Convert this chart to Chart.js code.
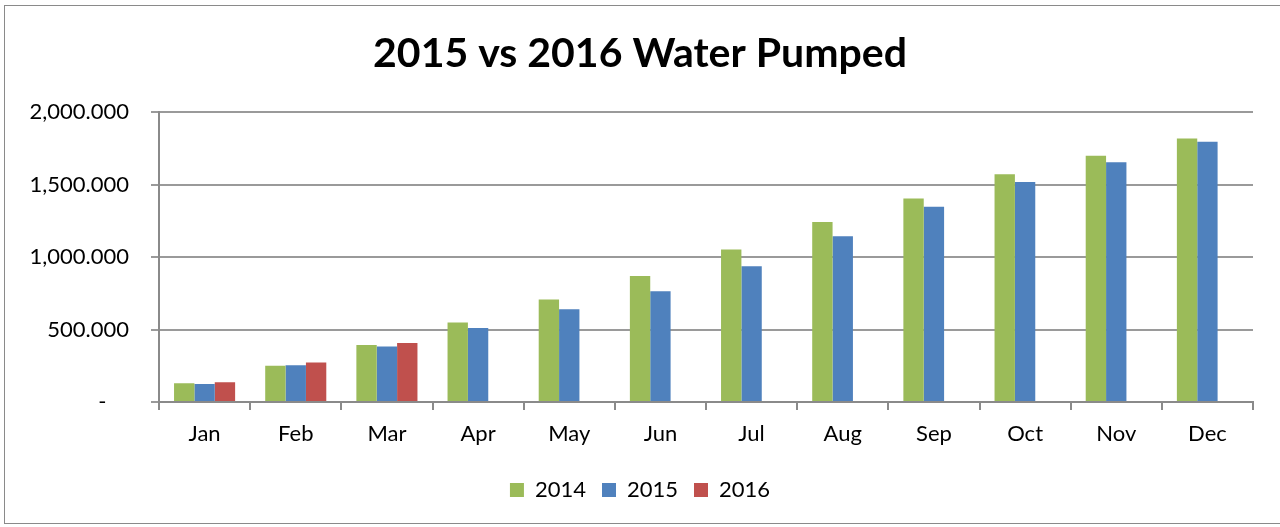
<!DOCTYPE html>
<html>
<head>
<meta charset="utf-8">
<script src="https://cdn.jsdelivr.net/npm/chart.js@4.4.1/dist/chart.umd.min.js"></script>
<style>
  html, body { margin: 0; padding: 0; background: #fff; }
  #wrap { position: relative; width: 1280px; height: 527px; overflow: hidden; }
  #frame { position: absolute; left: 4px; top: 5px; width: 1290px; height: 519px; border: 1.5px solid #8a8a8a; box-sizing: border-box; }
  canvas { position: absolute; left: 0; top: 0; }
</style>
</head>
<body>
<div id="wrap">
  <div id="frame"></div>
  <canvas id="myWaterChart" width="1280" height="527"></canvas>
</div>
<script>
  const months = ["Jan","Feb","Mar","Apr","May","Jun","Jul","Aug","Sep","Oct","Nov","Dec"];
  const pumped2014 = [129, 251, 394, 548, 707, 870, 1052, 1243, 1405, 1572, 1699, 1819];
  const pumped2015 = [124, 253, 383, 511, 640, 764, 937, 1144, 1347, 1519, 1655, 1796];
  const pumped2016 = [136, 272, 408, null, null, null, null, null, null, null, null, null];
  const yTicks = [0, 500, 1000, 1500, 2000];

  const fontFamily = "Lato, 'Open Sans', sans-serif";

  function tickLabel(v) {
    if (v === 0) return '-    ';
    return v.toLocaleString('en-US') + '.000';
  }

  let ctx = document.getElementById("myWaterChart").getContext('2d');
  let myWaterChart = new Chart(ctx, {
    type: 'bar',
    data: {
      labels: months,
      datasets: [
        { label: '2014', data: pumped2014, backgroundColor: '#9BBB59' },
        { label: '2015', data: pumped2015, backgroundColor: '#4F81BD' },
        { label: '2016', data: pumped2016, backgroundColor: '#C0504D' }
      ]
    },
    options: {
      responsive: false,
      animation: false,
      layout: { padding: { left: 0, right: 0, top: 0, bottom: 16 } },
      datasets: { bar: { categoryPercentage: 0.67, barPercentage: 1.0 } },
      plugins: {
        title: {
          display: true,
          text: '2015 vs 2016 Water Pumped',
          color: '#000',
          font: { family: fontFamily, size: 41, weight: 'bold', lineHeight: 1.2 },
          padding: { top: 29, bottom: 34 }
        },
        legend: {
          display: true,
          position: 'bottom',
          labels: {
            color: '#000',
            font: { family: fontFamily, size: 22 },
            boxWidth: 14,
            boxHeight: 14,
            padding: 16
          }
        },
        tooltip: { enabled: false }
      },
      scales: {
        x: {
          grid: { display: true, drawOnChartArea: false, offset: true, tickLength: 8, color: '#8a8a8a', lineWidth: 2 },
          border: { display: true, color: '#8a8a8a', width: 2 },
          ticks: { color: '#000', font: { family: fontFamily, size: 22 }, padding: 11, maxRotation: 0 },
          afterFit: function(scale) { scale.height = 61; }
        },
        y: {
          min: 0,
          max: 2000,
          afterBuildTicks: function(scale) { scale.ticks = yTicks.map(v => ({ value: v })); },
          grid: { color: '#9a9a9a', lineWidth: 2, tickLength: 8 },
          border: { display: true, color: '#8a8a8a', width: 2 },
          ticks: { color: '#000', font: { family: fontFamily, size: 22 }, padding: 22, callback: tickLabel },
          afterFit: function(scale) { scale.width = 159; }
        },
        // empty right gutter so the title and legend centre on the whole frame
        gutter: {
          position: 'right',
          min: 0,
          max: 2000,
          grid: { display: false },
          border: { display: false },
          ticks: { display: false },
          afterFit: function(scale) { scale.width = 27; }
        }
      }
    }
  });
</script>
</body>
</html>
